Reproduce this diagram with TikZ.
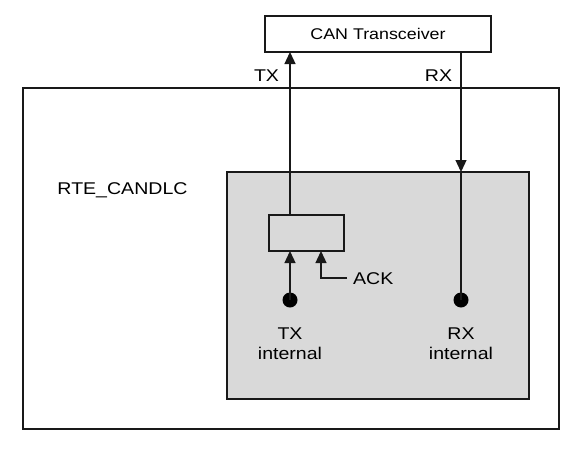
\documentclass[tikz,border=0pt]{standalone}
\usepackage{fontspec}
\setmainfont[FakeStretch=1.15]{Liberation Sans}
\usetikzlibrary{arrows.meta}
\begin{document}
\begin{tikzpicture}[x=1pt,y=-1pt,
  box/.style={draw=black!90, line width=1.3pt, inner sep=0pt, outer sep=0pt},
  lbl/.style={font=\fontsize{17}{20}\selectfont, inner sep=0pt},
  arr/.style={draw=black!90, line width=1.3pt, -{Triangle[length=12pt,width=11pt]}},
  ln/.style={draw=black!90, line width=1.3pt},
  dot/.style={circle, fill=black, minimum size=15pt, inner sep=0pt}]
\useasboundingbox (0,0) rectangle (583,450);
% outer box
\node[box, minimum width=536pt, minimum height=341pt] (outer) at (291,258.5) {};
% gray box
\node[box, fill=black!15, minimum width=302pt, minimum height=227pt] (gray) at (378,285.5) {};
% transceiver
\node[box, fill=white, minimum width=226pt, minimum height=36pt, font=\fontsize{15.5}{18}\selectfont] (can) at (378,34) {CAN Transceiver};
% inner box
\node[box, minimum width=75pt, minimum height=36pt] (inner) at (306.5,233) {};
% dots
\node[dot] (txd) at (290,300) {};
\node[dot] (rxd) at (461,300) {};
% labels
\node[lbl] (rte) at (122.5,190) {RTE\_CANDLC};
\node[lbl] (txl) at (266.5,76) {TX};
\node[lbl] (rxl) at (438.5,76) {RX};
\node[lbl, anchor=west] (ack) at (353,279) {ACK};
\node[lbl, align=center] (txi) at (290,343.5) {TX\\internal};
\node[lbl, align=center] (rxi) at (461,343.5) {RX\\internal};
% coordinates
\coordinate (txtop) at (290,215);
\coordinate (cantx) at (290,52);
\coordinate (canrx) at (461,52);
\coordinate (rxin) at (461,172);
\coordinate (ackend) at (347,278);
\coordinate (ackbend) at (321,278);
\coordinate (ackin) at (321,251);
\coordinate (txin) at (290,251);
% connectors
\draw[arr] (txtop) -- (cantx);
\draw[arr] (canrx) -- (rxin);
\draw[ln] (rxin) -- (rxd.center);
\draw[arr] (txd.center) -- (txin);
\draw[arr] (ackend) -- (ackbend) -- (ackin);
\end{tikzpicture}
\end{document}
